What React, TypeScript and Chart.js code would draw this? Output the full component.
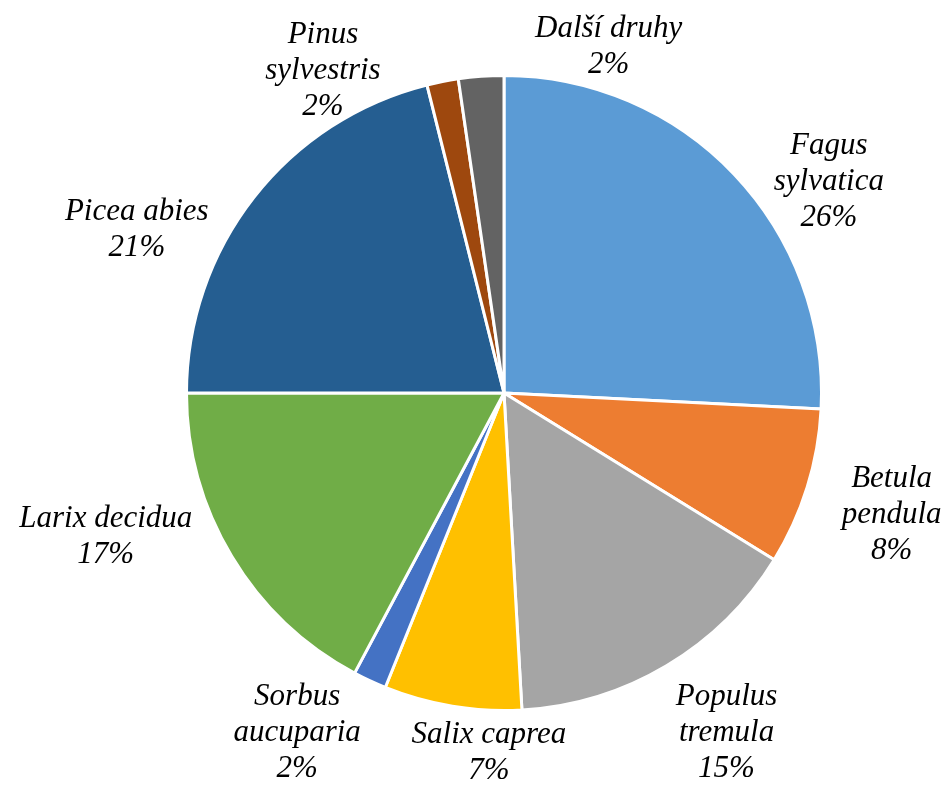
import React, { useEffect, useRef } from "react";
import { Chart, registerables } from "chart.js";

Chart.register(...registerables);

const species = [
  "Fagus sylvatica",
  "Betula pendula",
  "Populus tremula",
  "Salix caprea",
  "Sorbus aucuparia",
  "Larix decidua",
  "Picea abies",
  "Pinus sylvestris",
  "Další druhy",
];
const shares = [25.8, 8.0, 15.3, 7.0, 1.7, 17.2, 21.1, 1.6, 2.3];
const percentLabels = ["26%", "8%", "15%", "7%", "2%", "17%", "21%", "2%", "2%"];
const labelLines = [
  ["Fagus", "sylvatica"],
  ["Betula", "pendula"],
  ["Populus", "tremula"],
  ["Salix caprea"],
  ["Sorbus", "aucuparia"],
  ["Larix decidua"],
  ["Picea abies"],
  ["Pinus", "sylvestris"],
  ["Další druhy"],
];
const colors = [
  "#5B9BD5",
  "#ED7D31",
  "#A5A5A5",
  "#FFC000",
  "#4472C4",
  "#70AD47",
  "#255E91",
  "#9E480E",
  "#636363",
];
// label placement: polar angle (deg, clockwise from top) and distance as a fraction of radius
const labelAngles = [57, 107.5, 146.8, 182.4, 211.3, 250.1, 294, 330.7, 16.8];
const labelRadii = [1.22, 1.28, 1.28, 1.135, 1.254, 1.334, 1.266, 1.165, 1.14];

const labelPlugin = {
  id: "outerLabels",
  afterDatasetsDraw(chart: any) {
    const meta = chart.getDatasetMeta(0);
    const ctx = chart.ctx;
    ctx.save();
    ctx.font = "italic 31px 'Liberation Serif', 'Times New Roman', serif";
    ctx.fillStyle = "#000";
    ctx.textAlign = "center";
    ctx.textBaseline = "middle";
    const lh = 36;
    meta.data.forEach((arc: any, i: number) => {
      const { x, y, outerRadius } = arc.getProps(["x", "y", "outerRadius"], true);
      const a = (labelAngles[i] * Math.PI) / 180;
      const r = outerRadius * labelRadii[i];
      const cx = x + Math.sin(a) * r;
      const cy = y - Math.cos(a) * r;
      const lines = [...labelLines[i], percentLabels[i]];
      const top = cy - ((lines.length - 1) * lh) / 2;
      lines.forEach((t, k) => ctx.fillText(t, cx, top + k * lh));
    });
    ctx.restore();
  },
};

export default function App() {
  const ref = useRef<HTMLCanvasElement>(null);
  useEffect(() => {
    document.body.style.margin = "0";
    const chart = new Chart(ref.current!, {
      type: "pie",
      data: {
        labels: species,
        datasets: [
          {
            data: shares,
            backgroundColor: colors,
            borderColor: "#ffffff",
            borderWidth: 3,
          },
        ],
      },
      options: {
        responsive: true,
        maintainAspectRatio: false,
        animation: false,
        layout: { padding: { left: 185, right: 124, top: 74, bottom: 77 } },
        plugins: {
          legend: { display: false },
          tooltip: { enabled: false },
        },
      },
      plugins: [labelPlugin],
    });
    return () => chart.destroy();
  }, []);
  return (
    <div style={{ width: 947, height: 789, position: "relative", background: "#fff" }}>
      <canvas ref={ref} />
    </div>
  );
}
